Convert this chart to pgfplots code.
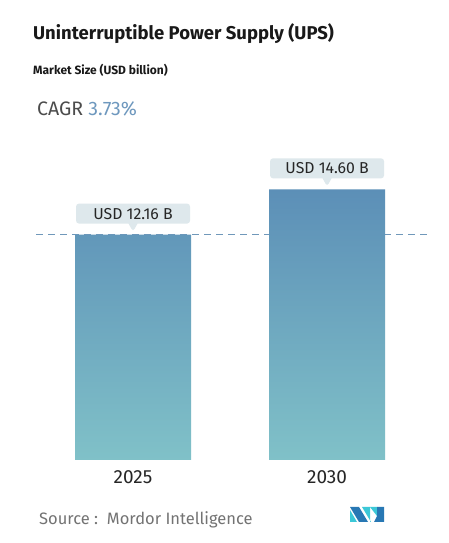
\documentclass[border=0pt]{standalone}
\usepackage{pgfplots}
\pgfplotsset{compat=1.18}
\usepackage{fontspec}
\setmainfont{Fira Sans}
\usetikzlibrary{shapes.callouts}
\definecolor{bartop}{RGB}{92,143,183}
\definecolor{barbot}{RGB}{128,193,200}
\definecolor{dashc}{RGB}{112,152,186}
\definecolor{lbl}{RGB}{222,232,236}
\definecolor{cagr}{RGB}{110,152,190}
\definecolor{src}{RGB}{115,115,115}
\definecolor{logodark}{RGB}{40,120,180}
\definecolor{logocyan}{RGB}{60,200,215}
\begin{document}
\begin{tikzpicture}
\path[use as bounding box, fill=white] (0pt,0pt) rectangle (448pt,543pt);
\node[anchor=base west, inner sep=0, font=\fontsize{18.5}{20}\selectfont\bfseries, text=black!90] at (33pt,503.7pt) {Uninterruptible Power Supply (UPS)};
\node[anchor=base west, inner sep=0, font=\fontsize{12}{14}\selectfont\bfseries, text=black!90] at (33pt,468pt) {Market Size (USD billion)};
\node[anchor=base west, inner sep=0, font=\fontsize{19.5}{21}\selectfont] at (37pt,427pt) {\textcolor{black!70}{CAGR} \textcolor{cagr}{3.73\%}};
\node[anchor=base west, inner sep=0, font=\fontsize{16.5}{18}\selectfont, text=src] at (39pt,18pt) {Source :\ \ Mordor Intelligence};
% logo
\fill[logocyan] (350pt,33pt) -- (350pt,21pt) -- (357pt,21pt) -- cycle;
\fill[logodark] (350pt,36pt) -- (359pt,36pt) -- (368pt,21pt) -- (359pt,21pt) -- cycle;
\fill[logocyan] (362pt,36pt) -- (370pt,36pt) -- (370pt,21pt) -- (371pt,21pt) -- cycle;
\fill[logocyan] (370pt,36pt) -- (377pt,36pt) -- (377pt,27pt) -- cycle;
\fill[logodark] (377pt,36pt) -- (384pt,36pt) -- (384pt,21pt) -- (374pt,21pt) -- (377pt,27pt) -- cycle;
\begin{axis}[
  at={(36pt,83pt)}, anchor=south west, scale only axis,
  width=391pt, height=296.7pt,
  xmin=-0.5, xmax=1.515, ymin=0, ymax=16,
  axis line style={draw=none}, tick style={draw=none},
  ytick=\empty, xtick={0,1}, xticklabels={2025,2030},
  xticklabel style={font=\fontsize{19}{21}\selectfont, text=black!85, yshift=-7pt},
  clip=false,
]
\addplot[draw=dashc, line width=1.2pt, dash pattern=on 7pt off 5pt, forget plot] coordinates {(-0.5,12.16) (1.515,12.16)};
\addplot[ybar, bar width=116pt, draw=none, top color=bartop, bottom color=barbot,
  nodes near coords={USD \pgfmathprintnumber[fixed,fixed zerofill,precision=2,assume math mode=true]{\pgfplotspointmeta} B},
  every node near coord/.append style={shape=rectangle callout, fill=lbl, rounded corners=3pt,
    callout relative pointer={(0pt,-8pt)}, callout pointer width=9pt,
    anchor=pointer, yshift=2.5pt, minimum width=114pt, minimum height=20pt,
    inner ysep=2pt, text=black!85, font=\fontsize{15.8}{18}\selectfont}
] coordinates {(0,12.16) (1,14.60)};
\end{axis}
\end{tikzpicture}
\end{document}
